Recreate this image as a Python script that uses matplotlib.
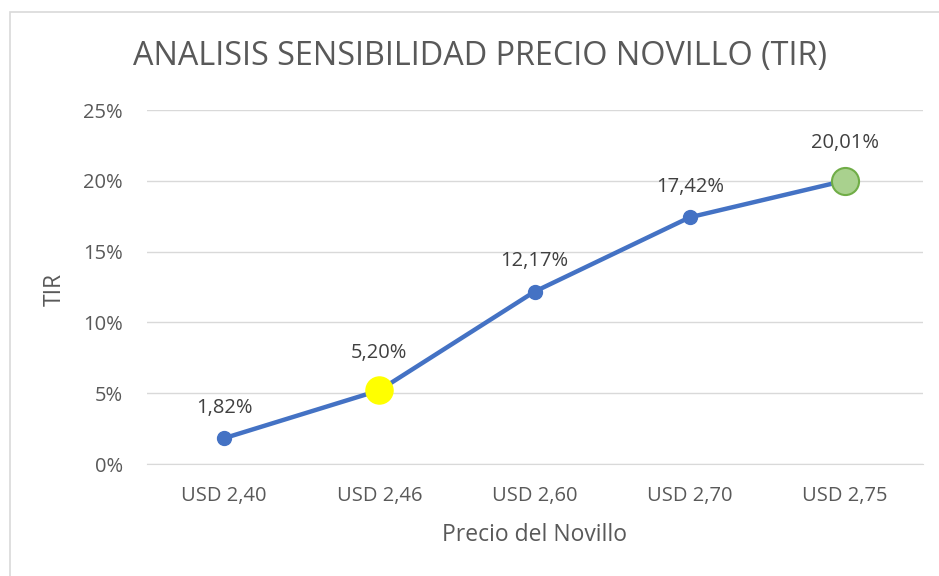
import matplotlib
matplotlib.use("Agg")
import matplotlib.pyplot as plt
from matplotlib.patches import Rectangle
from matplotlib.ticker import FuncFormatter

categories = ["USD 2,40", "USD 2,46", "USD 2,60", "USD 2,70", "USD 2,75"]
tir = [1.82, 5.20, 12.17, 17.42, 20.01]
labels = ["1,82%", "5,20%", "12,17%", "17,42%", "20,01%"]
yticks = [0, 5, 10, 15, 20, 25]

plt.rcParams['font.family'] = ['Open Sans', 'DejaVu Sans']
text_color = "#595959"

fig = plt.figure(figsize=(9.39, 5.76), dpi=100)
# outer chart border (extends beyond the image on right/bottom)
fig.patches.append(Rectangle((9.5/939, -0.05), 1.1, 1 - 11.5/576 + 0.05,
                             transform=fig.transFigure, fill=False,
                             edgecolor="#D9D9D9", linewidth=1.2))

ax = fig.add_axes([146.5/939, (576-464)/576, (922.5-146.5)/939, (464-110)/576])
x = list(range(len(categories)))
ax.plot(x, tir, color="#4472C4", linewidth=3.2, marker="o", markersize=10,
        markerfacecolor="#4472C4", markeredgecolor="#4472C4", zorder=3)
# highlighted points
ax.plot(x[1], tir[1], marker="o", markersize=19.5, markerfacecolor="#FFFF00",
        markeredgecolor="#FFFF00", linestyle="none", zorder=4)
ax.plot(x[4], tir[4], marker="o", markersize=19.5, markerfacecolor="#A9D18E",
        markeredgecolor="#70AD47", markeredgewidth=1.5, linestyle="none", zorder=4)

for i, (xi, yi, lab) in enumerate(zip(x, tir, labels)):
    off = 27 if i in (1, 4) else 22
    ax.annotate(lab, (xi, yi), xytext=(0, off), textcoords="offset points",
                ha="center", va="center", fontsize=14.5, color="#404040")

ax.set_xlim(-0.5, len(categories) - 0.5)
ax.set_ylim(0, 25)
ax.set_yticks(yticks)
ax.yaxis.set_major_formatter(FuncFormatter(lambda v, p: f"{int(v)}%"))
ax.set_xticks(x)
ax.set_xticklabels(categories)
ax.grid(axis="y", color="#D9D9D9", linewidth=1)
ax.set_axisbelow(True)
for s in ["top", "right", "left"]:
    ax.spines[s].set_visible(False)
ax.spines["bottom"].set_color("#D9D9D9")
ax.tick_params(axis="both", length=0, labelsize=14.5, colors=text_color)
ax.tick_params(axis="y", pad=17)
ax.tick_params(axis="x", pad=16)

ax.set_xlabel("Precio del Novillo", fontsize=16.5, color=text_color)
ax.set_ylabel("TIR", fontsize=16.5, color=text_color)
ax.xaxis.set_label_coords(0.5, (464-535)/354)
ax.xaxis.label.set_va("center")
ax.yaxis.set_label_coords((55-146.5)/776, (464-289)/354)
ax.yaxis.label.set_va("center")

fig.text(480/939, 1 - 57/576, "ANALISIS SENSIBILIDAD PRECIO NOVILLO (TIR)",
         ha="center", va="center", fontsize=23.3, color=text_color)

fig.savefig("out.png", dpi=100, facecolor="white")
